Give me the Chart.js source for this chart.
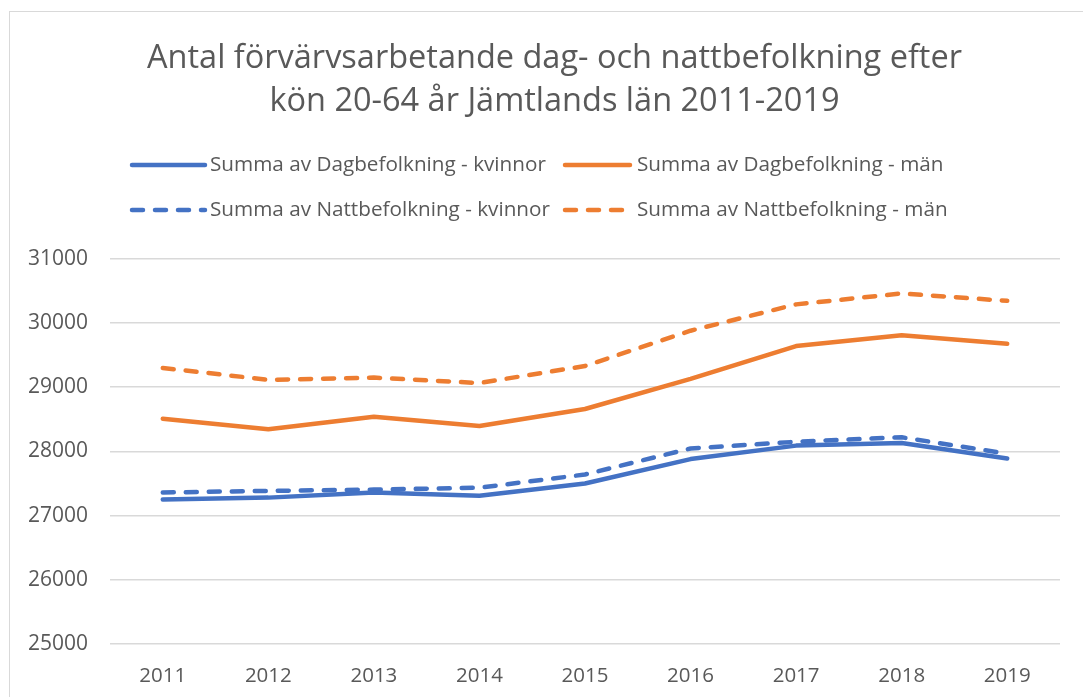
<!DOCTYPE html>
<html>
<head>
<meta charset="utf-8">
<script src="https://cdn.jsdelivr.net/npm/chart.js@4"></script>
<style>
html,body{margin:0;padding:0;background:#fff;}
#wrap{position:relative;width:1083px;height:697px;overflow:hidden;}
#frame{position:absolute;left:9px;top:11px;width:1100px;height:720px;border:1.5px solid #d9d9d9;box-sizing:border-box;}
canvas{position:absolute;left:0;top:0;}
</style>
</head>
<body>
<div id="wrap"><div id="frame"></div><canvas id="c" width="1109" height="697"></canvas></div>
<script>
const years = ['2011','2012','2013','2014','2015','2016','2017','2018','2019'];
const dagKvinnor = [27250, 27280, 27360, 27310, 27500, 27880, 28090, 28130, 27890];
const dagMan = [28510, 28345, 28540, 28395, 28660, 29130, 29640, 29810, 29675];
const nattKvinnor = [27360, 27385, 27405, 27435, 27640, 28045, 28150, 28220, 27965];
const nattMan = [29300, 29115, 29150, 29065, 29330, 29880, 30290, 30460, 30345];
const titleLines = ['Antal förvärvsarbetande dag- och nattbefolkning efter', 'kön 20-64 år Jämtlands län 2011-2019'];

const BLUE = '#4472C4', ORANGE = '#ED7D31', TXT = '#595959';
const DASH = [11, 12];
const FONT = "'Open Sans', sans-serif";

const legendPlugin = {
  id: 'gridLegend',
  afterDraw(chart) {
    const ctx = chart.ctx;
    const ds = chart.data.datasets;
    const cols = [{lx0: 132, lx1: 205, tx: 210}, {lx0: 565, lx1: 630, tx: 637}];
    const rows = [165, 210];
    const order = [[0, 1], [2, 3]];
    ctx.save();
    ctx.font = "20.7px " + FONT;
    ctx.textBaseline = 'middle';
    order.forEach((r, ri) => {
      r.forEach((di, ci) => {
        const d = ds[di], c = cols[ci], y = rows[ri];
        ctx.beginPath();
        ctx.strokeStyle = d.borderColor;
        ctx.lineWidth = 4.5;
        ctx.lineCap = 'round';
        ctx.setLineDash(d.borderDash || []);
        ctx.moveTo(c.lx0, y);
        ctx.lineTo(c.lx1, y);
        ctx.stroke();
        ctx.setLineDash([]);
        ctx.fillStyle = TXT;
        ctx.textAlign = 'left';
        ctx.fillText(d.label, c.tx, y);
      });
    });
    ctx.restore();
  }
};

const mk = (label, data, color, dashed) => ({
  label, data,
  borderColor: color, backgroundColor: color,
  borderWidth: 4.5, borderDash: dashed ? DASH : [],
  borderCapStyle: 'round', borderJoinStyle: 'round',
  pointRadius: 0, tension: 0, fill: false
});

new Chart(document.getElementById('c'), {
  type: 'line',
  data: {
    labels: years,
    datasets: [
      mk('Summa av Dagbefolkning - kvinnor', dagKvinnor, BLUE, false),
      mk('Summa av Dagbefolkning - män', dagMan, ORANGE, false),
      mk('Summa av Nattbefolkning - kvinnor', nattKvinnor, BLUE, true),
      mk('Summa av Nattbefolkning - män', nattMan, ORANGE, true)
    ]
  },
  options: {
    responsive: false,
    animation: false,
    layout: {padding: {left: 0, right: 0, top: 0, bottom: 0}},
    plugins: {
      legend: {display: false},
      tooltip: {enabled: false},
      title: {
        display: true,
        text: titleLines,
        color: TXT,
        font: {family: FONT, size: 32.5, weight: 'normal', lineHeight: 1.32},
        padding: {top: 37, bottom: 136}
      }
    },
    scales: {
      x: {
        offset: true,
        grid: {display: false, drawTicks: false},
        border: {display: false},
        ticks: {color: TXT, font: {family: FONT, size: 20.5}, padding: 20, maxRotation: 0},
        afterFit(s) { s.height = 53; }
      },
      y: {
        min: 25000, max: 31000,
        grid: {color: '#d9d9d9', lineWidth: 1.5, drawTicks: false},
        border: {display: false},
        ticks: {stepSize: 1000, color: TXT, font: {family: FONT, size: 21}, padding: 22,
                callback: v => String(v)},
        afterFit(s) { s.width = 110; }
      },
      spacer: {
        position: 'right',
        min: 0, max: 1,
        grid: {display: false, drawTicks: false},
        border: {display: false},
        ticks: {display: false},
        afterFit(s) { s.width = 49; }
      }
    }
  },
  plugins: [legendPlugin]
});
</script>
</body>
</html>
